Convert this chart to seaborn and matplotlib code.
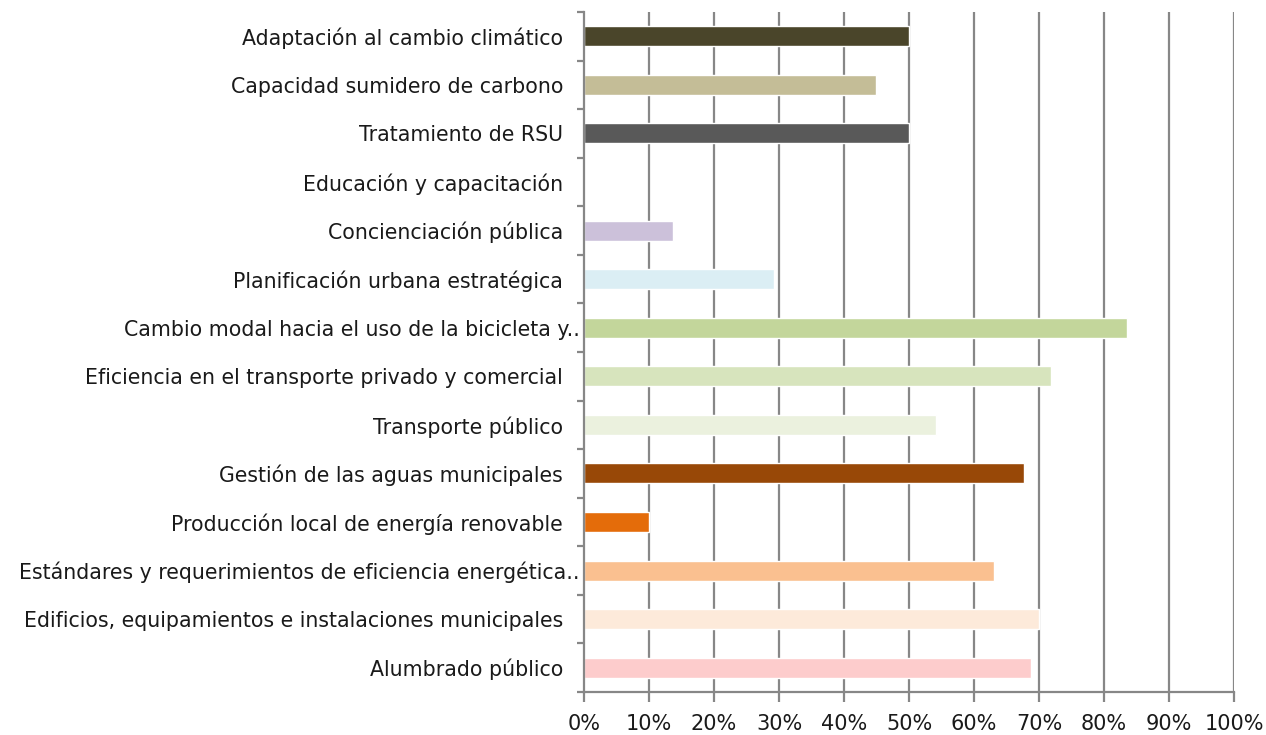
import matplotlib
matplotlib.use("Agg")
import matplotlib.pyplot as plt
import seaborn as sns
import pandas as pd
import numpy as np
from matplotlib.ticker import FixedLocator, PercentFormatter

categories = [
    "Adaptación al cambio climático",
    "Capacidad sumidero de carbono",
    "Tratamiento de RSU",
    "Educación y capacitación",
    "Concienciación pública",
    "Planificación urbana estratégica",
    "Cambio modal hacia el uso de la bicicleta y..",
    "Eficiencia en el transporte privado y comercial",
    "Transporte público",
    "Gestión de las aguas municipales",
    "Producción local de energía renovable",
    "Estándares y requerimientos de eficiencia energética..",
    "Edificios, equipamientos e instalaciones municipales",
    "Alumbrado público",
]
values = [0.50, 0.449, 0.50, 0.0, 0.137, 0.292, 0.835, 0.718, 0.542, 0.677, 0.10, 0.631, 0.70, 0.688]
colors = ["#4A452A", "#C4BD97", "#595959", "#FFFFFF", "#CCC1DA", "#DBEEF4", "#C3D69B",
          "#D7E4BD", "#EBF1DE", "#984807", "#E46C0A", "#FAC090", "#FDEADA", "#FDCCCC"]
xticks = [0, 0.1, 0.2, 0.3, 0.4, 0.5, 0.6, 0.7, 0.8, 0.9, 1.0]

df = pd.DataFrame({"cat": categories, "val": values})

sns.set_theme(style="white")
plt.rcParams["font.family"] = ["DejaVu Sans"]

fig = plt.figure(figsize=(12.66, 7.35), dpi=100)
ax = fig.add_axes([584 / 1266, 1 - 692 / 735, 650 / 1266, 680 / 735])

sns.barplot(data=df, y="cat", x="val", hue="cat", palette=dict(zip(categories, colors)),
            order=categories, legend=False, width=0.41, ax=ax, orient="h", saturation=1)

ax.set_xlim(0, 1.0)
ax.set_ylim(len(categories) - 0.5, -0.5)
ax.set_xlabel("")
ax.set_ylabel("")

ax.xaxis.set_major_locator(FixedLocator(xticks))
ax.xaxis.set_major_formatter(PercentFormatter(1.0, decimals=0))
for x in xticks[1:]:
    ax.axvline(x, color="#878787", lw=1.6, zorder=0)

for s in ["top", "right"]:
    ax.spines[s].set_visible(False)
for s in ["left", "bottom"]:
    ax.spines[s].set_color("#878787")
    ax.spines[s].set_linewidth(1.6)

ax.tick_params(axis="x", which="major", direction="out", length=7, width=1.6, color="#878787",
               labelsize=15, labelcolor="#1a1a1a", pad=9, bottom=True)
ax.tick_params(axis="y", which="major", length=0, labelsize=14.8, labelcolor="#1a1a1a")
for tick, lab in zip(ax.yaxis.get_major_ticks(), categories):
    tick.set_pad(3 if lab.endswith("..") else 15)
ax.yaxis.set_minor_locator(FixedLocator(np.arange(-0.5, len(categories), 1.0)))
ax.tick_params(axis="y", which="minor", direction="out", length=5, width=1.6, color="#878787", left=True)

fig.savefig("out.png", dpi=100)
